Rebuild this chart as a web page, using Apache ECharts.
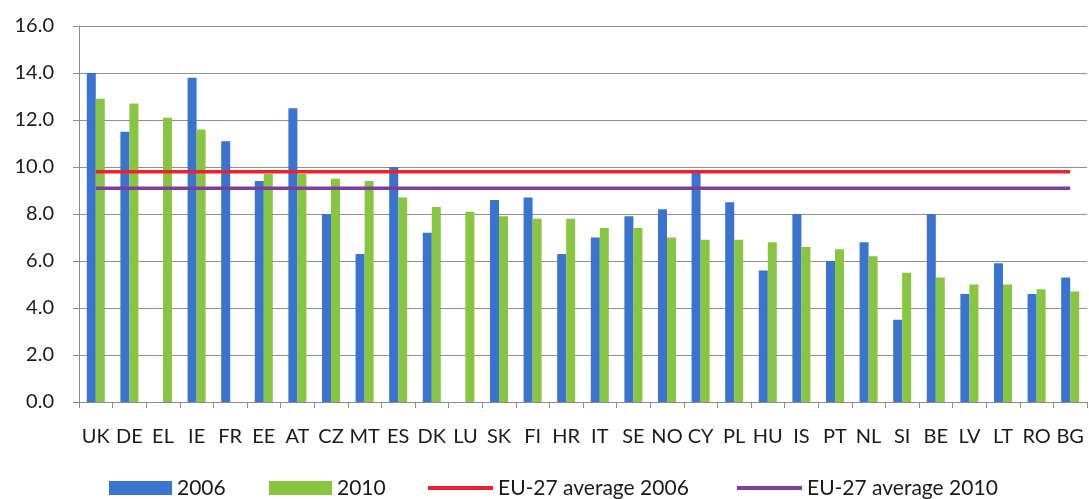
<!DOCTYPE html>
<html>
<head>
<meta charset="utf-8">
<script src="https://cdn.jsdelivr.net/npm/echarts@6/dist/echarts.min.js"></script>
<style>html,body{margin:0;padding:0;background:#fff}#c{width:1089px;height:499px}</style>
</head>
<body>
<div id="c"></div>
<script>
var categories = ['UK','DE','EL','IE','FR','EE','AT','CZ','MT','ES','DK','LU','SK','FI','HR','IT','SE','NO','CY','PL','HU','IS','PT','NL','SI','BE','LV','LT','RO','BG'];
var values2006 = [14.0,11.5,null,13.8,11.1,9.4,12.5,8.0,6.3,10.0,7.2,null,8.6,8.7,6.3,7.0,7.9,8.2,9.8,8.5,5.6,8.0,6.0,6.8,3.5,8.0,4.6,5.9,4.6,5.3];
var values2010 = [12.9,12.7,12.1,11.6,null,9.7,9.7,9.5,9.4,8.7,8.3,8.1,7.9,7.8,7.8,7.4,7.4,7.0,6.9,6.9,6.8,6.6,6.5,6.2,5.5,5.3,5.0,5.0,4.8,4.7];
var avg2006 = 9.8;
var avg2010 = 9.1;
var yTicks = [0,2,4,6,8,10,12,14,16];
var seriesNames = ['2006','2010','EU-27 average 2006','EU-27 average 2010'];

var font = 'Lato';
var legendText = {fontSize: 21, color: '#1a1a1a', fontFamily: font, lineHeight: 22};
function mkLegend(name, left, isLine) {
  return {
    top: 477, left: left, padding: 0, itemGap: 0, itemWidth: isLine ? 65 : 63, itemHeight: isLine ? 4 : 14,
    icon: 'rect', textStyle: legendText, data: [name]
  };
}
var chart = echarts.init(document.getElementById('c'));
chart.setOption({
  animation: false,
  textStyle: {fontFamily: font},
  grid: {left: 79, right: 2, top: 26, bottom: 97},
  legend: [
    mkLegend(seriesNames[0], 109, false),
    mkLegend(seriesNames[1], 269, false),
    mkLegend(seriesNames[2], 428, true),
    mkLegend(seriesNames[3], 737, true)
  ],
  xAxis: {
    type: 'category', data: categories,
    axisLine: {lineStyle: {color: '#8c8c8c', width: 1}},
    axisTick: {show: true, length: 6, lineStyle: {color: '#8c8c8c'}},
    axisLabel: {fontSize: 20, color: '#1a1a1a', margin: 25, interval: 0}
  },
  yAxis: {
    type: 'value', min: yTicks[0], max: yTicks[yTicks.length-1], interval: 2,
    axisLine: {show: true, lineStyle: {color: '#8c8c8c'}},
    axisTick: {show: true, length: 6, lineStyle: {color: '#8c8c8c'}},
    axisLabel: {fontSize: 20, color: '#1a1a1a', margin: 25, formatter: function(v){return v.toFixed(1);}},
    splitLine: {lineStyle: {color: '#8f8f8f', width: 1}}
  },
  series: [
    {name: seriesNames[0], type: 'bar', data: values2006, barWidth: 9, barGap: '0%', itemStyle: {color: '#3a74d0'}},
    {name: seriesNames[1], type: 'bar', data: values2010, barWidth: 9, itemStyle: {color: '#88c540'}},
    {name: seriesNames[2], type: 'line', symbol: 'none', data: categories.map(function(){return avg2006;}), lineStyle: {color: '#e8232d', width: 3.5}, itemStyle: {color: '#e8232d'}, z: 5},
    {name: seriesNames[3], type: 'line', symbol: 'none', data: categories.map(function(){return avg2010;}), lineStyle: {color: '#7b3f9e', width: 3.5}, itemStyle: {color: '#7b3f9e'}, z: 5}
  ]
});
</script>
</body>
</html>
